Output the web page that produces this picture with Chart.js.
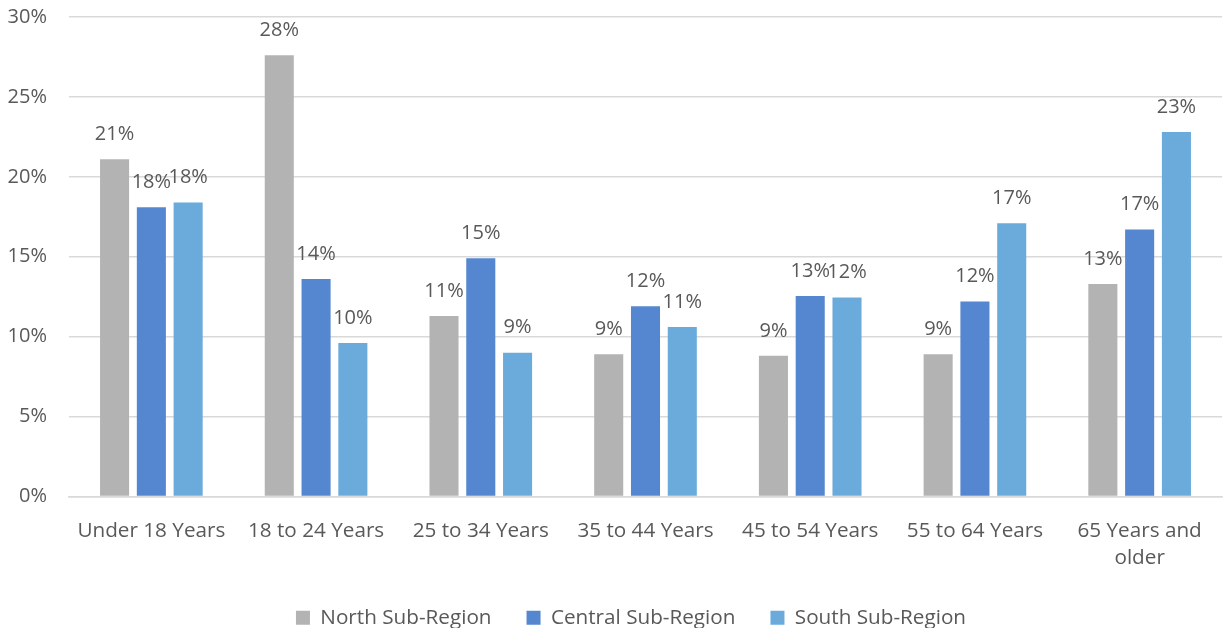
<!DOCTYPE html>
<html lang="en">
<head>
  <meta charset="UTF-8">
  <title>Age Distribution by Sub-Region</title>
  <script src="https://cdn.jsdelivr.net/npm/chart.js"></script>
  <style>
    body { margin: 0; background: #fff; }
    #wrap { width: 1225px; height: 628px; }
  </style>
</head>
<body>
  <div id="wrap"><canvas id="ageChart"></canvas></div>

  <script>
    const categories = ['Under 18 Years', '18 to 24 Years', '25 to 34 Years', '35 to 44 Years',
      '45 to 54 Years', '55 to 64 Years', ['65 Years and', 'older']];
    const north = [21.1, 27.6, 11.3, 8.9, 8.8, 8.9, 13.3];
    const central = [18.1, 13.6, 14.9, 11.9, 12.55, 12.2, 16.7];
    const south = [18.4, 9.6, 9.0, 10.6, 12.45, 17.1, 22.8];
    const yTicks = [0, 5, 10, 15, 20, 25, 30];

    const textColor = '#595959';
    const fontFamily = "'Open Sans', sans-serif";

    // value labels above each bar
    const barLabels = {
      id: 'barLabels',
      afterLayout(chart) {
        // nudge the legend a little to the right, like the original
        chart.legend.left += 16;
        chart.legend.right += 16;
      },
      afterDatasetsDraw(chart) {
        const ctx = chart.ctx;
        ctx.save();
        ctx.fillStyle = textColor;
        ctx.font = '20px ' + fontFamily;
        ctx.textAlign = 'center';
        ctx.textBaseline = 'middle';
        chart.data.datasets.forEach((ds, i) => {
          chart.getDatasetMeta(i).data.forEach((bar, j) => {
            ctx.fillText(Math.round(ds.data[j]) + '%', bar.x, bar.y - 25);
          });
        });
        ctx.restore();
      }
    };

    new Chart(document.getElementById('ageChart'), {
      type: 'bar',
      data: {
        labels: categories,
        datasets: [
          { label: 'North Sub-Region', data: north, backgroundColor: '#b3b3b3' },
          { label: 'Central Sub-Region', data: central, backgroundColor: '#5487cf' },
          { label: 'South Sub-Region', data: south, backgroundColor: '#6aabdc' }
        ]
      },
      options: {
        responsive: true,
        maintainAspectRatio: false,
        animation: false,
        categoryPercentage: 0.67,
        barPercentage: 0.79,
        layout: { padding: { top: 17, right: 3, left: 8, bottom: -10 } },
        plugins: {
          tooltip: { enabled: false },
          legend: {
            position: 'bottom',
            labels: {
              color: textColor,
              font: { family: fontFamily, size: 20.7 },
              boxWidth: 14,
              boxHeight: 14,
              padding: 35
            }
          }
        },
        scales: {
          y: {
            min: 0,
            max: 30,
            afterBuildTicks(axis) { axis.ticks = yTicks.map(v => ({ value: v })); },
            afterFit(axis) {
              axis.width = 61;
              axis.paddingTop = 0;
              axis.paddingBottom = 0;
            },
            ticks: {
              color: textColor,
              font: { family: fontFamily, size: 20 },
              padding: 22,
              callback: v => v + '%'
            },
            grid: { color: '#d9d9d9', lineWidth: 1.5, drawTicks: false },
            border: { display: false }
          },
          x: {
            afterFit(axis) {
              axis.paddingLeft = 0;
              axis.paddingRight = 0;
              axis.height -= 20;
            },
            ticks: {
              color: textColor,
              font: { family: fontFamily, size: 20.7, lineHeight: 1.3 },
              padding: 21,
              maxRotation: 0,
              autoSkip: false
            },
            grid: { display: false, drawTicks: false },
            border: { color: '#d9d9d9', width: 1.5 }
          }
        }
      },
      plugins: [barLabels]
    });
  </script>
</body>
</html>
